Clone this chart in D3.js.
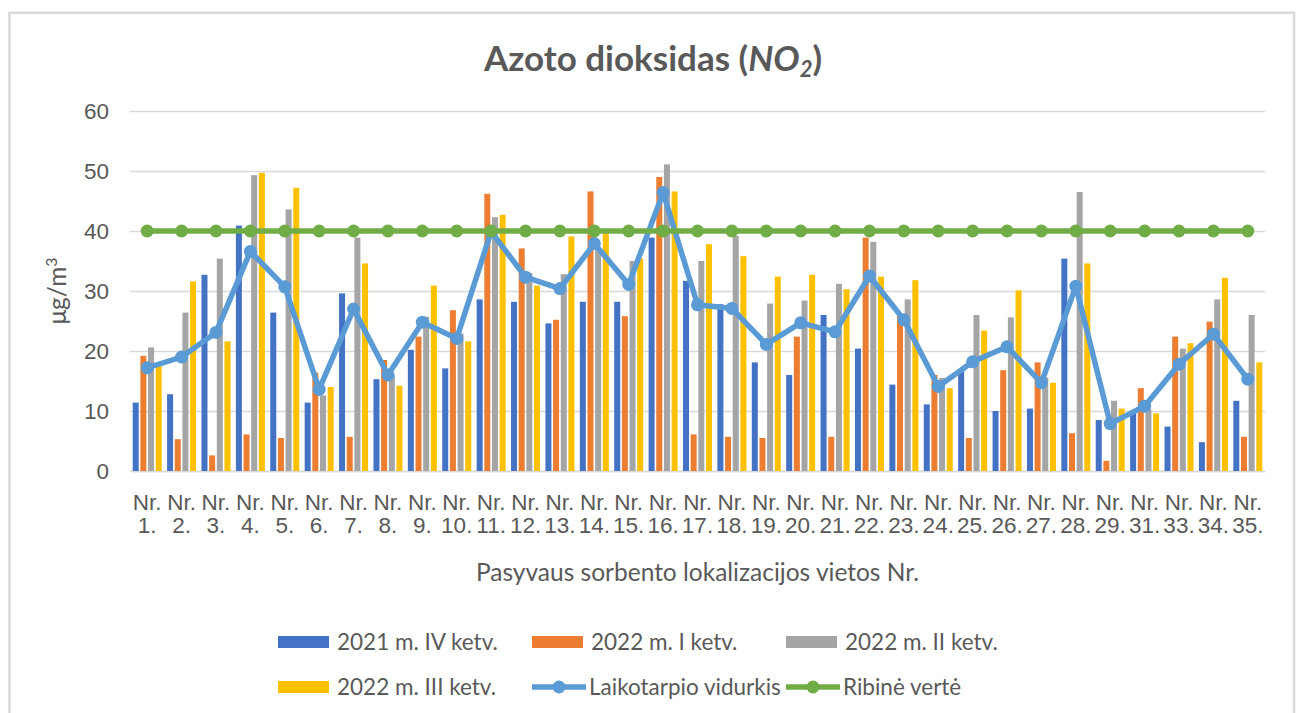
<!DOCTYPE html>
<html>
<head>
<meta charset="utf-8">
<script src="https://cdn.jsdelivr.net/npm/d3@7"></script>
<style>
  body { margin: 0; background: #fff; }
  svg { display: block; font-family: Lato, "Liberation Sans", sans-serif; }
  .grid line { stroke: #d9d9d9; stroke-width: 1.5; }
  .tick text { fill: #595959; font-size: 22.5px; }
</style>
</head>
<body>
<div id="chart"></div>
<script>
// duomenys nuskaityti nuo grafiko
const categories = ["Nr. 1.", "Nr. 2.", "Nr. 3.", "Nr. 4.", "Nr. 5.", "Nr. 6.", "Nr. 7.", "Nr. 8.", "Nr. 9.", "Nr. 10.",
  "Nr. 11.", "Nr. 12.", "Nr. 13.", "Nr. 14.", "Nr. 15.", "Nr. 16.", "Nr. 17.", "Nr. 18.", "Nr. 19.", "Nr. 20.",
  "Nr. 21.", "Nr. 22.", "Nr. 23.", "Nr. 24.", "Nr. 25.", "Nr. 26.", "Nr. 27.", "Nr. 28.", "Nr. 29.", "Nr. 31.",
  "Nr. 33.", "Nr. 34.", "Nr. 35."];

const q2021IV = [11.4, 12.8, 32.7, 40.9, 26.4, 11.4, 29.6, 15.3, 20.2, 17.1, 28.6, 28.2, 24.6, 28.2, 28.2, 38.9, 31.7,
  27.8, 18.1, 16.0, 26.0, 20.4, 14.4, 11.1, 16.8, 10.0, 10.4, 35.4, 8.5, 9.6, 7.4, 4.8, 11.7];
const q2022I = [19.2, 5.3, 2.6, 6.1, 5.5, 16.4, 5.7, 18.5, 22.4, 26.8, 46.2, 37.1, 25.2, 46.6, 25.8, 49.0, 6.1,
  5.7, 5.5, 22.4, 5.7, 38.9, 26.0, 16.0, 5.5, 16.8, 18.1, 6.3, 1.7, 13.8, 22.4, 24.9, 5.7];
const q2022II = [20.6, 26.4, 35.4, 49.3, 43.6, 12.6, 38.9, 16.0, 25.7, 22.9, 42.3, 33.0, 32.8, 37.2, 35.0, 51.1, 35.0,
  39.2, 27.9, 28.4, 31.2, 38.2, 28.6, 15.5, 26.0, 25.6, 15.6, 46.5, 11.7, 10.3, 20.4, 28.6, 26.0];
const q2022III = [17.7, 31.6, 21.6, 49.7, 47.2, 14.0, 34.6, 14.2, 30.9, 21.6, 42.7, 30.9, 39.1, 39.6, 35.4, 46.6, 37.8,
  35.8, 32.4, 32.7, 30.3, 32.4, 31.8, 13.8, 23.4, 30.1, 14.7, 34.6, 10.4, 9.6, 21.3, 32.2, 18.1];
const vidurkis = [17.2, 19.0, 23.1, 36.6, 30.7, 13.6, 27.0, 16.0, 24.8, 22.1, 39.9, 32.3, 30.4, 37.9, 31.1, 46.4, 27.7,
  27.1, 21.1, 24.7, 23.2, 32.5, 25.2, 14.1, 18.2, 20.7, 14.7, 30.8, 7.9, 10.8, 17.8, 22.8, 15.3];
const ribine = [40, 40, 40, 40, 40, 40, 40, 40, 40, 40, 40, 40, 40, 40, 40, 40, 40,
  40, 40, 40, 40, 40, 40, 40, 40, 40, 40, 40, 40, 40, 40, 40, 40];

const barNames = ["2021 m. IV ketv.", "2022 m. I ketv.", "2022 m. II ketv.", "2022 m. III ketv."];
const barColors = ["#4472c4", "#ed7d31", "#a5a5a5", "#ffc000"];
const yTicks = [0, 10, 20, 30, 40, 50, 60];

const W = 1301, H = 713;
const margin = { top: 111, right: 36, bottom: 242, left: 130 };
const innerW = W - margin.left - margin.right;
const innerH = H - margin.top - margin.bottom;

const svg = d3.select("#chart").append("svg")
  .attr("width", W).attr("height", H);

// rėmelis
svg.append("rect")
  .attr("x", 9.5).attr("y", 12.8).attr("width", 1284.5).attr("height", 720)
  .attr("fill", "#fff").attr("stroke", "#d9d9d9").attr("stroke-width", 2.5);

// pavadinimas
const title = svg.append("text")
  .attr("x", 653).attr("y", 71).attr("text-anchor", "middle")
  .attr("fill", "#595959").style("font-size", "35px").style("font-weight", "bold");
title.append("tspan").text("Azoto dioksidas (");
title.append("tspan").style("font-style", "italic").text("NO");
title.append("tspan").style("font-style", "italic").style("font-size", "22px").attr("dy", 6).text("2");
title.append("tspan").attr("dy", -6).text(")");

const g = svg.append("g").attr("transform", `translate(${margin.left},${margin.top})`);

const x0 = d3.scaleBand().domain(categories).range([0, innerW]).paddingInner(0.157).paddingOuter(0.0785);
const x1 = d3.scaleBand().domain(d3.range(4)).range([0, x0.bandwidth()]).paddingInner(0.217);
const y = d3.scaleLinear().domain([0, 60]).range([innerH, 0]);

// tinklelis ir y ašis
g.append("g").attr("class", "grid")
  .call(d3.axisLeft(y).tickValues(yTicks).tickSize(-innerW).tickPadding(21))
  .call(a => a.select(".domain").remove());

// x ašis
const xAxis = g.append("g").attr("class", "grid")
  .attr("transform", `translate(0,${innerH})`)
  .call(d3.axisBottom(x0).tickSize(0));
xAxis.select(".domain").attr("stroke", "#d9d9d9").attr("stroke-width", 1.5);
xAxis.selectAll(".tick text").each(function(d) {
  const t = d3.select(this).text(null).attr("dy", null).attr("y", null);
  const parts = d.split(" ");
  t.append("tspan").attr("x", 0).attr("y", 39).text(parts[0]);
  t.append("tspan").attr("x", 0).attr("y", 62).text(parts[1]);
});

// stulpeliai
const series = [q2021IV, q2022I, q2022II, q2022III];
series.forEach((vals, si) => {
  g.append("g").selectAll("rect")
    .data(vals)
    .join("rect")
    .attr("x", (d, i) => x0(categories[i]) + x1(si))
    .attr("y", d => y(d))
    .attr("width", x1.bandwidth())
    .attr("height", d => innerH - y(d))
    .attr("fill", barColors[si]);
});

const cx = i => x0(categories[i]) + x0.bandwidth() / 2;
const line = d3.line().x((d, i) => cx(i)).y(d => y(d));

function drawLine(vals, color) {
  g.append("path").datum(vals)
    .attr("d", line).attr("fill", "none")
    .attr("stroke", color).attr("stroke-width", 5.5).attr("stroke-linejoin", "round");
  g.append("g").selectAll("circle").data(vals).join("circle")
    .attr("cx", (d, i) => cx(i)).attr("cy", d => y(d)).attr("r", 6.5)
    .attr("fill", color);
}
drawLine(vidurkis, "#5b9bd5");
drawLine(ribine, "#70ad47");

// ašių pavadinimai
svg.append("text")
  .attr("x", margin.left + innerW / 2).attr("y", 581).attr("text-anchor", "middle")
  .attr("fill", "#595959").style("font-size", "24.5px")
  .text("Pasyvaus sorbento lokalizacijos vietos Nr.");

const yl = svg.append("text")
  .attr("transform", `translate(66,${margin.top + innerH / 2}) rotate(-90)`)
  .attr("text-anchor", "middle").attr("fill", "#595959").style("font-size", "24.5px");
yl.append("tspan").text("μg/m");
yl.append("tspan").attr("dy", -9).style("font-size", "16px").text("3");

// legenda
const legendItems = [
  { name: barNames[0], color: barColors[0], type: "bar" },
  { name: barNames[1], color: barColors[1], type: "bar" },
  { name: barNames[2], color: barColors[2], type: "bar" },
  { name: barNames[3], color: barColors[3], type: "bar" },
  { name: "Laikotarpio vidurkis", color: "#5b9bd5", type: "line" },
  { name: "Ribinė vertė", color: "#70ad47", type: "line" }
];
const legend = svg.append("g");
legendItems.forEach((it, i) => {
  const lx = 278 + (i % 3) * 254;
  const ly = i < 3 ? 642 : 687;
  const item = legend.append("g").attr("transform", `translate(${lx},${ly})`);
  if (it.type === "bar") {
    item.append("rect").attr("x", 0).attr("y", -6).attr("width", 51).attr("height", 12).attr("fill", it.color);
  } else {
    item.append("line").attr("x1", 0).attr("x2", 54).attr("stroke", it.color).attr("stroke-width", 5.5);
    item.append("circle").attr("cx", 27).attr("r", 6.5).attr("fill", it.color);
  }
  item.append("text").attr("x", it.type === "bar" ? 59 : 57).attr("y", 8)
    .attr("fill", "#595959").style("font-size", "22.5px").text(it.name);
});
</script>
</body>
</html>
